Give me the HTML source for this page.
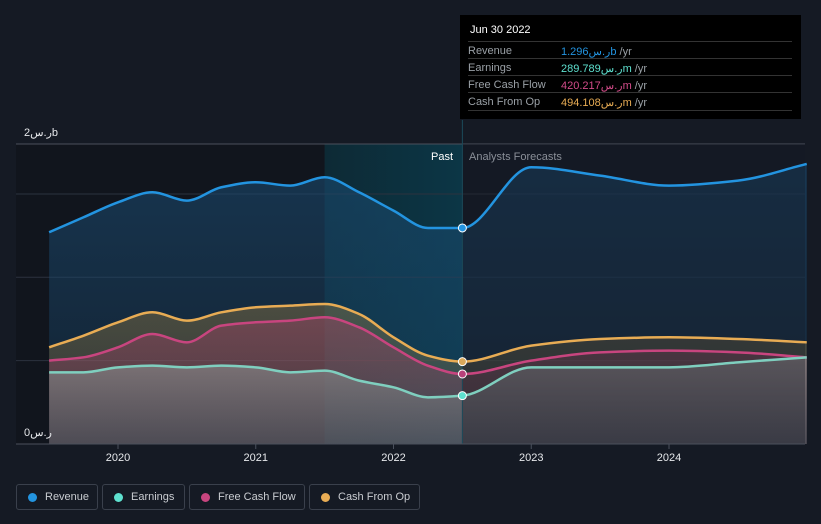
<!DOCTYPE html>
<html><head><meta charset="utf-8">
<style>
html,body{margin:0;padding:0;background:#151a24;width:821px;height:524px;overflow:hidden;font-family:"Liberation Sans","Noto Sans CJK SC",sans-serif}
#chart{position:absolute;left:0;top:0}
.tip{position:absolute;left:460px;top:15px;width:341px;height:104px;background:#000;color:#fff;font-size:11px}
.tip .h{position:absolute;left:10px;top:9px;font-size:11px;color:#fff}
.tip .row{position:absolute;left:8px;width:324px;height:17px;border-top:1px solid #333;color:#9aa0a6}
.tip .row span{position:absolute;top:3px}
.tip .row .v{left:93px}
.legend{position:absolute;top:484px;height:26px;border:1px solid #3a404c;border-radius:3px;color:#c9ccd1;font-size:11px;box-sizing:border-box}
.legend i{position:absolute;left:11px;top:8px;width:9px;height:9px;border-radius:50%}
.legend span{position:absolute;top:6px}
</style></head><body>
<svg id="chart" width="821" height="524"></svg>
<div class="tip">
<div class="h">Jun 30 2022</div>
<div class="row" style="top:26px"><span>Revenue</span><span class="v"><b style="font-weight:normal;color:#2394e0">1.296ر.سb</b> /yr</span></div>
<div class="row" style="top:43px"><span>Earnings</span><span class="v"><b style="font-weight:normal;color:#5ee0cf">289.789ر.سm</b> /yr</span></div>
<div class="row" style="top:60px"><span>Free Cash Flow</span><span class="v"><b style="font-weight:normal;color:#d34c8a">420.217ر.سm</b> /yr</span></div>
<div class="row" style="top:77px;border-bottom:1px solid #333"><span>Cash From Op</span><span class="v"><b style="font-weight:normal;color:#e8ac54">494.108ر.سm</b> /yr</span></div>
</div>
<div class="legend" style="left:16px;width:82px"><i style="background:#2394e0"></i><span style="left:28px">Revenue</span></div>
<div class="legend" style="left:102px;width:83px"><i style="background:#5ee0cf"></i><span style="left:28px">Earnings</span></div>
<div class="legend" style="left:189px;width:116px"><i style="background:#c8457f"></i><span style="left:28px">Free Cash Flow</span></div>
<div class="legend" style="left:309px;width:111px"><i style="background:#e8ac54"></i><span style="left:28px">Cash From Op</span></div>
<script>
const times=[2019.5,2019.75,2020,2020.25,2020.5,2020.75,2021,2021.25,2021.5,2021.75,2022,2022.25,2022.5,2023,2023.5,2024,2024.5,2025];
const revenue=[1.27,1.36,1.45,1.51,1.46,1.54,1.57,1.55,1.60,1.51,1.40,1.296,1.296,1.66,1.61,1.55,1.58,1.68];
const cashFromOp=[0.58,0.65,0.73,0.79,0.74,0.79,0.82,0.83,0.84,0.78,0.64,0.53,0.494,0.59,0.63,0.64,0.63,0.61];
const freeCashFlow=[0.50,0.52,0.58,0.66,0.61,0.71,0.73,0.74,0.76,0.70,0.58,0.47,0.42,0.50,0.55,0.56,0.55,0.52];
const earnings=[0.43,0.43,0.46,0.47,0.46,0.47,0.46,0.43,0.44,0.38,0.34,0.28,0.29,0.46,0.46,0.46,0.49,0.52];
const xTicks=[2020,2021,2022,2023,2024];
const yGrid=[0.5,1.0,1.5,1.8];
const pastIdx=12;
const X=t=>118+(t-2020)*137.75;
const Y=v=>444-v*166.7;
const svg=document.getElementById('chart');
const NS='http://www.w3.org/2000/svg';
function mk(tag,attrs,parent){const e=document.createElementNS(NS,tag);for(const k in attrs)e.setAttribute(k,attrs[k]);(parent||svg).appendChild(e);return e;}
svg.innerHTML='<defs><linearGradient id="pg" x1="0" x2="1"><stop offset="0" stop-color="#0d2a35"/><stop offset="1" stop-color="#0c3646"/></linearGradient>'+
'<linearGradient id="gRev" x1="0" y1="0" x2="0" y2="1"><stop offset="0" stop-color="#1a4a70" stop-opacity="0.6"/><stop offset="1" stop-color="#1a4a70" stop-opacity="0.25"/></linearGradient>'+
'<linearGradient id="gCfo" x1="0" y1="0" x2="0" y2="1"><stop offset="0" stop-color="#b08a40" stop-opacity="0.35"/><stop offset="1" stop-color="#b08a40" stop-opacity="0.15"/></linearGradient>'+
'<linearGradient id="gFcf" x1="0" y1="0" x2="0" y2="1"><stop offset="0" stop-color="#a8406a" stop-opacity="0.4"/><stop offset="1" stop-color="#a8406a" stop-opacity="0.15"/></linearGradient>'+
'<linearGradient id="gEar" x1="0" y1="0" x2="0" y2="1"><stop offset="0" stop-color="#8a8a8a" stop-opacity="0.7"/><stop offset="1" stop-color="#5a5f68" stop-opacity="0.55"/></linearGradient></defs>';
let r=mk('rect',{x:16,y:144,width:X(2021.5)-16,height:300,fill:'#11151d'});
r=mk('rect',{x:X(2021.5),y:144,width:X(times[pastIdx])-X(2021.5),height:300,fill:'url(#pg)'});
yGrid.forEach(v=>{const l=mk('line',{x1:16,x2:805,y1:Y(v),y2:Y(v),stroke:v==1.8?'#4a505c':'#2c323e','stroke-width':1});});
// monotone cubic (Fritsch-Carlson)
function pathD(vals){const xs=times.map(X),ys=vals.map(Y),n=xs.length;const d=[],m=new Array(n);
for(let i=0;i<n-1;i++)d.push((ys[i+1]-ys[i])/(xs[i+1]-xs[i]));
m[0]=d[0];m[n-1]=d[n-2];
for(let i=1;i<n-1;i++){if(d[i-1]*d[i]<=0)m[i]=0;else{const h0=xs[i]-xs[i-1],h1=xs[i+1]-xs[i];const w1=2*h1+h0,w2=h1+2*h0;m[i]=(w1+w2)/(w1/d[i-1]+w2/d[i]);}}
let s='M'+xs[0]+','+ys[0];
for(let i=0;i<n-1;i++){const h=(xs[i+1]-xs[i])/3;s+=' C'+(xs[i]+h)+','+(ys[i]+m[i]*h)+' '+(xs[i+1]-h)+','+(ys[i+1]-m[i+1]*h)+' '+xs[i+1]+','+ys[i+1];}
return s;}
const series=[['revenue',revenue,'#2394e0','url(#gRev)'],['cash-from-op',cashFromOp,'#e8ac54','url(#gCfo)'],['free-cash-flow',freeCashFlow,'#c8457f','url(#gFcf)'],['earnings',earnings,'#7fcfbf','url(#gEar)']];
series.forEach(s=>{const d=pathD(s[1]);const a=mk('path',{d:d+' L'+X(times[times.length-1])+','+Y(0)+' L'+X(times[0])+','+Y(0)+' Z',fill:s[3]});});
r=mk('rect',{x:X(times[pastIdx]),y:144,width:805-X(times[pastIdx]),height:300,fill:'#151a24',opacity:0.35});
series.forEach(s=>{const l=mk('path',{d:pathD(s[1]),fill:'none',stroke:s[2],'stroke-width':2.5});});
let ln=mk('line',{x1:X(times[pastIdx]),x2:X(times[pastIdx]),y1:120,y2:444,stroke:'#1b4a5a','stroke-width':1});
ln=mk('line',{x1:16,x2:805,y1:444,y2:444,stroke:'#4a505c'});
const dotCol=['#2394e0','#d9a85a','#b8407a','#5ee0cf'];
series.forEach((s,i)=>{const c=mk('circle',{cx:X(times[pastIdx]),cy:Y(s[1][pastIdx]),r:4,fill:dotCol[i],stroke:'#fff','stroke-width':1});});
xTicks.forEach(t=>{const l=mk('line',{x1:X(t),x2:X(t),y1:444,y2:449,stroke:'#4a505c'});
const tx=mk('text',{x:X(t),y:461,fill:'#e6e8eb','font-size':11,'text-anchor':'middle'});tx.textContent=t;});
let tx=mk('text',{x:24,y:136,fill:'#e6e8eb','font-size':11});tx.textContent='2ر.سb';
tx=mk('text',{x:24,y:436,fill:'#e6e8eb','font-size':11});tx.textContent='0ر.س';
tx=mk('text',{x:453,y:160,fill:'#fff','font-size':11,'text-anchor':'end'});tx.textContent='Past';
tx=mk('text',{x:469,y:160,fill:'#8a8f98','font-size':11});tx.textContent='Analysts Forecasts';
</script>
</body></html>
